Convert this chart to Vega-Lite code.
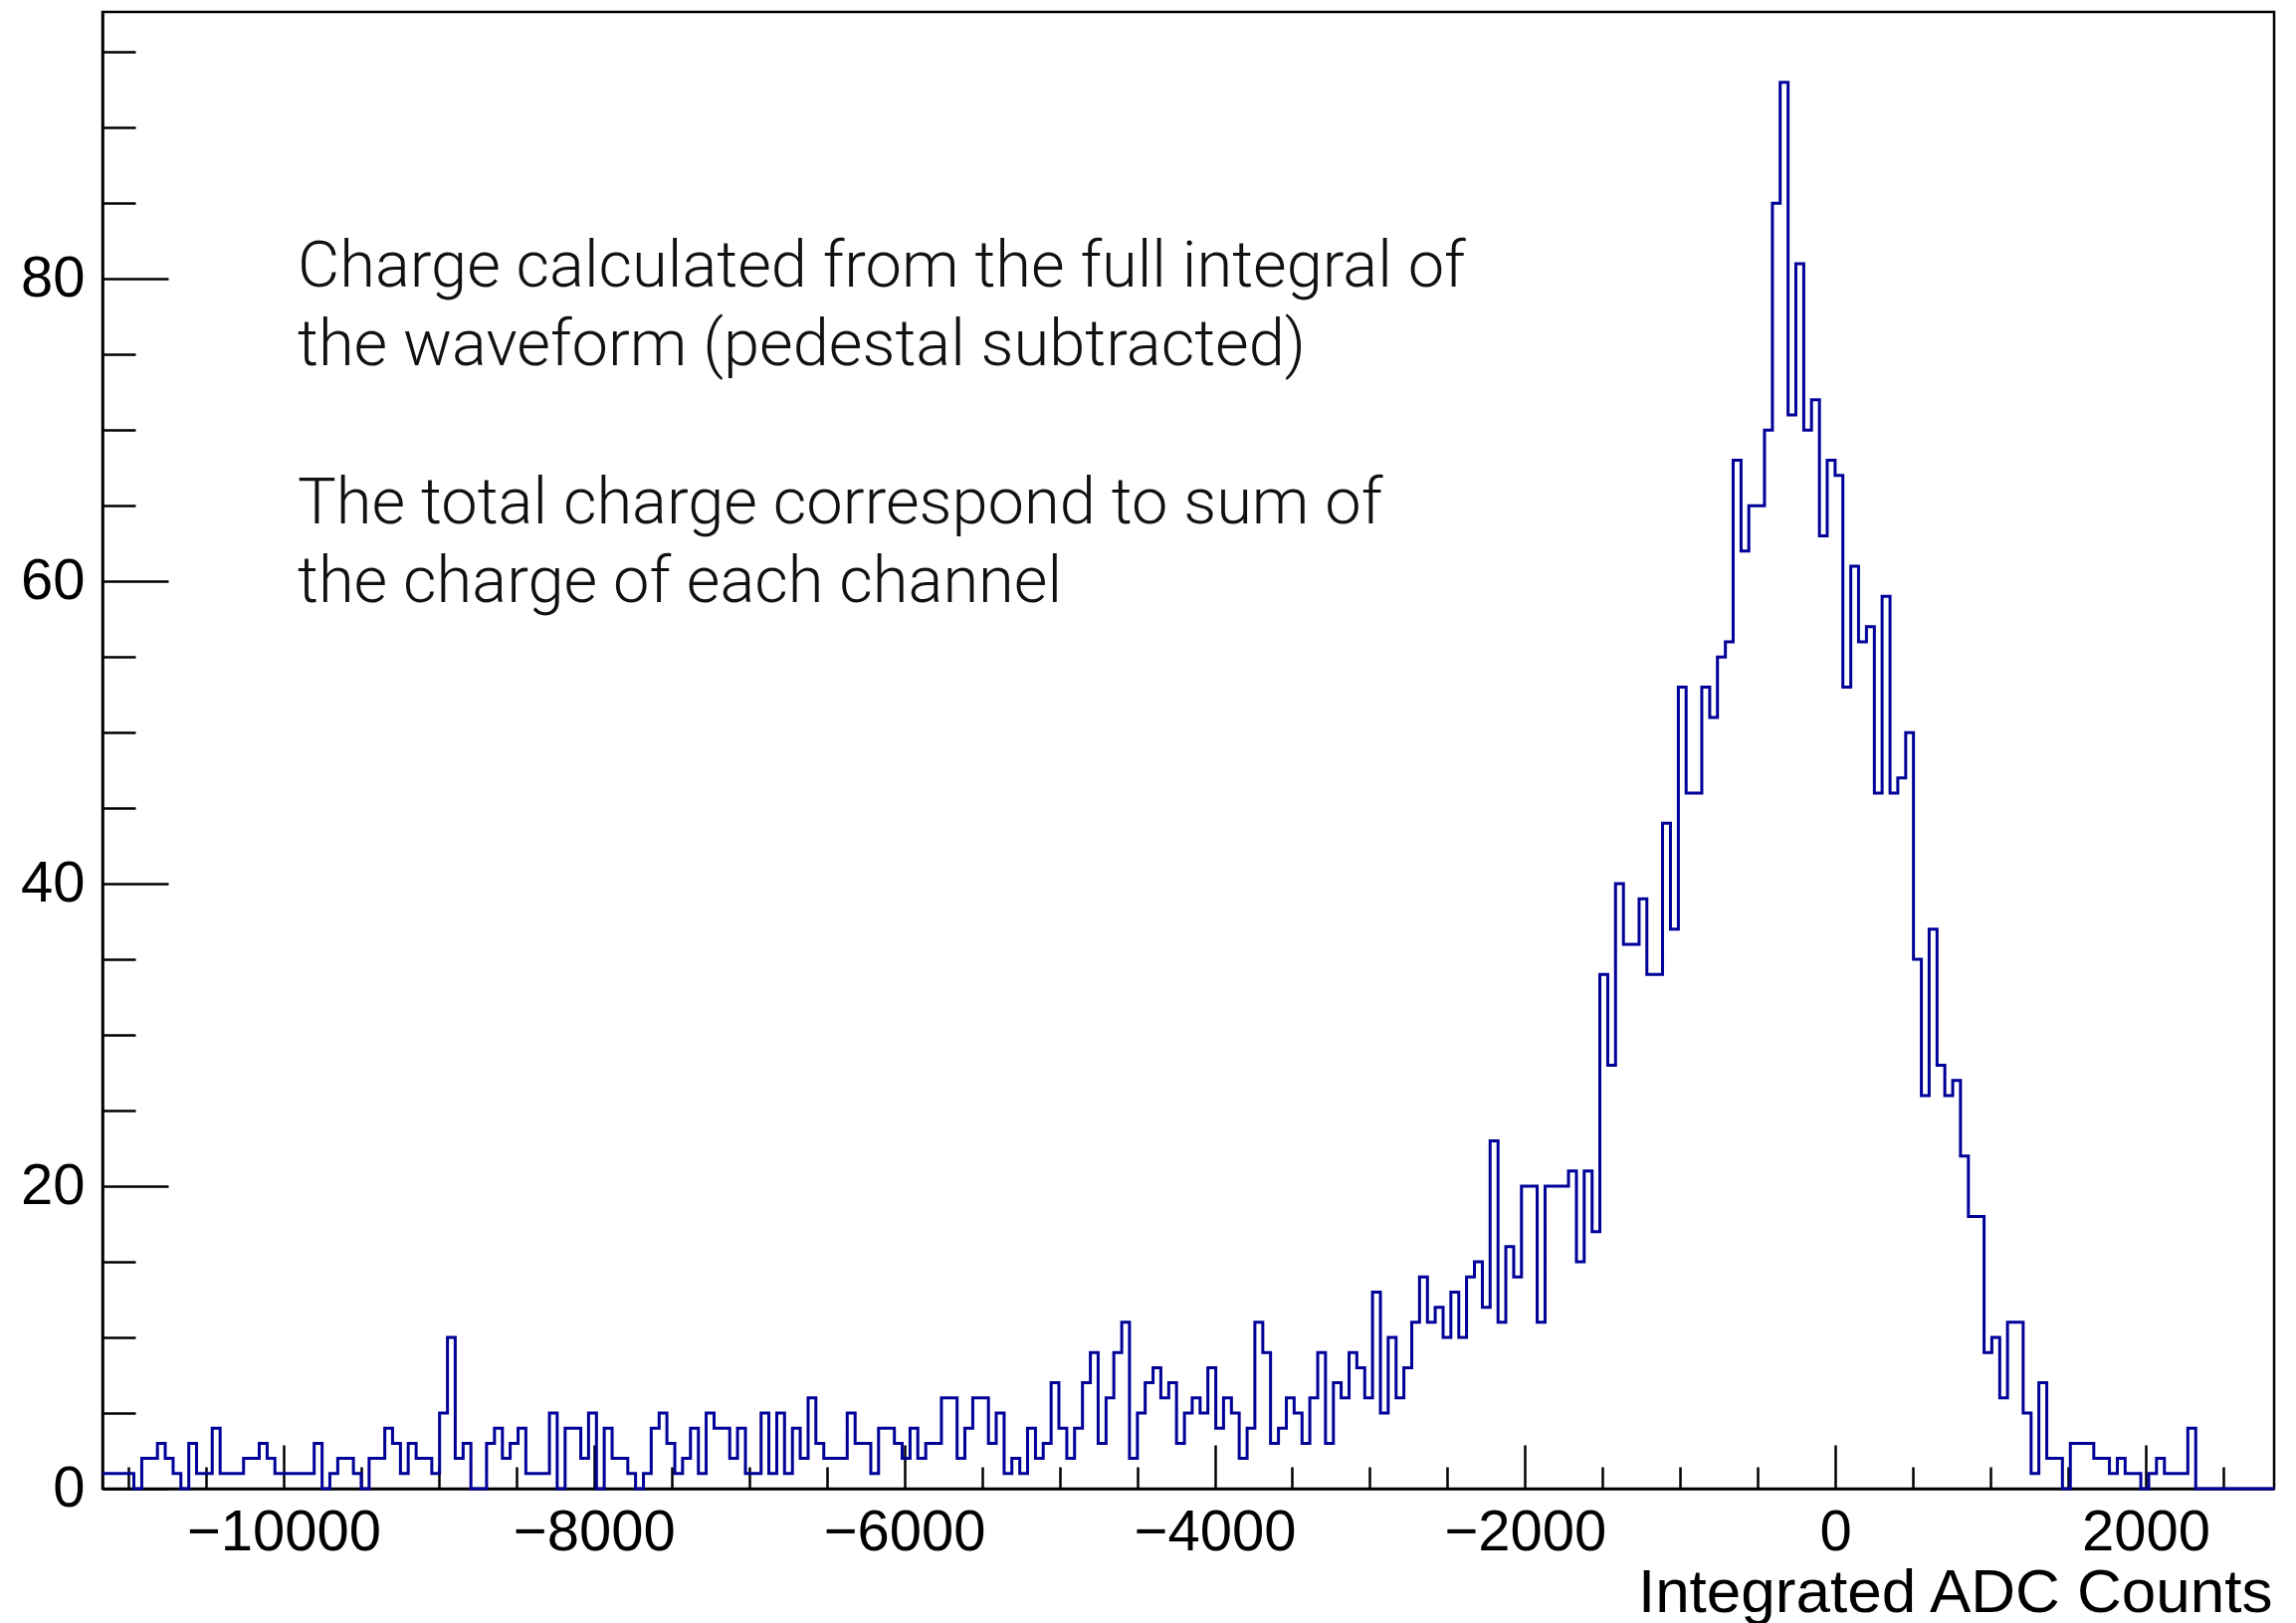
{
  "$schema": "https://vega.github.io/schema/vega-lite/v6.json",
  "width": 2182,
  "height": 1484,
  "autosize": {"type": "none"},
  "padding": {"left": 103, "top": 12, "right": 22, "bottom": 135},
  "background": "white",
  "config": {
    "view": {"stroke": "black", "strokeWidth": 2.5},
    "axis": {
      "grid": false,
      "domainColor": "black",
      "domainWidth": 2.5,
      "tickColor": "black",
      "tickWidth": 2.5,
      "labelColor": "black",
      "labelFont": "Liberation Sans",
      "labelFontSize": 58,
      "labelFontWeight": "normal",
      "labelLimit": 500,
      "titleFont": "Liberation Sans",
      "titleFontWeight": "normal",
      "titleColor": "black",
      "labelOverlap": false,
      "labelFlush": false,
      "zindex": 1
    }
  },
  "layer": [
    {
      "data": {
        "values": [
          {"x": -11167, "n": 1}, {"x": -11116, "n": 1}, {"x": -11066, "n": 1}, {"x": -11015, "n": 1},
          {"x": -10965, "n": 0}, {"x": -10914, "n": 2}, {"x": -10864, "n": 2}, {"x": -10813, "n": 3},
          {"x": -10763, "n": 2}, {"x": -10712, "n": 1}, {"x": -10662, "n": 0}, {"x": -10611, "n": 3},
          {"x": -10561, "n": 1}, {"x": -10510, "n": 1}, {"x": -10460, "n": 4}, {"x": -10409, "n": 1},
          {"x": -10359, "n": 1}, {"x": -10308, "n": 1}, {"x": -10258, "n": 2}, {"x": -10207, "n": 2},
          {"x": -10157, "n": 3}, {"x": -10106, "n": 2}, {"x": -10056, "n": 1}, {"x": -10005, "n": 1},
          {"x": -9955, "n": 1}, {"x": -9904, "n": 1}, {"x": -9853, "n": 1}, {"x": -9803, "n": 3},
          {"x": -9752, "n": 0}, {"x": -9702, "n": 1}, {"x": -9651, "n": 2}, {"x": -9601, "n": 2},
          {"x": -9550, "n": 1}, {"x": -9500, "n": 0}, {"x": -9449, "n": 2}, {"x": -9399, "n": 2},
          {"x": -9348, "n": 4}, {"x": -9298, "n": 3}, {"x": -9247, "n": 1}, {"x": -9197, "n": 3},
          {"x": -9146, "n": 2}, {"x": -9096, "n": 2}, {"x": -9045, "n": 1}, {"x": -8995, "n": 5},
          {"x": -8944, "n": 10}, {"x": -8894, "n": 2}, {"x": -8843, "n": 3}, {"x": -8793, "n": 0},
          {"x": -8742, "n": 0}, {"x": -8692, "n": 3}, {"x": -8641, "n": 4}, {"x": -8590, "n": 2},
          {"x": -8540, "n": 3}, {"x": -8489, "n": 4}, {"x": -8439, "n": 1}, {"x": -8388, "n": 1},
          {"x": -8338, "n": 1}, {"x": -8287, "n": 5}, {"x": -8237, "n": 0}, {"x": -8186, "n": 4},
          {"x": -8136, "n": 4}, {"x": -8085, "n": 2}, {"x": -8035, "n": 5}, {"x": -7984, "n": 0},
          {"x": -7934, "n": 4}, {"x": -7883, "n": 2}, {"x": -7833, "n": 2}, {"x": -7782, "n": 1},
          {"x": -7732, "n": 0}, {"x": -7681, "n": 1}, {"x": -7631, "n": 4}, {"x": -7580, "n": 5},
          {"x": -7530, "n": 3}, {"x": -7479, "n": 1}, {"x": -7429, "n": 2}, {"x": -7378, "n": 4},
          {"x": -7327, "n": 1}, {"x": -7277, "n": 5}, {"x": -7226, "n": 4}, {"x": -7176, "n": 4},
          {"x": -7125, "n": 2}, {"x": -7075, "n": 4}, {"x": -7024, "n": 1}, {"x": -6974, "n": 1},
          {"x": -6923, "n": 5}, {"x": -6873, "n": 1}, {"x": -6822, "n": 5}, {"x": -6772, "n": 1},
          {"x": -6721, "n": 4}, {"x": -6671, "n": 2}, {"x": -6620, "n": 6}, {"x": -6570, "n": 3},
          {"x": -6519, "n": 2}, {"x": -6469, "n": 2}, {"x": -6418, "n": 2}, {"x": -6368, "n": 5},
          {"x": -6317, "n": 3}, {"x": -6267, "n": 3}, {"x": -6216, "n": 1}, {"x": -6166, "n": 4},
          {"x": -6115, "n": 4}, {"x": -6064, "n": 3}, {"x": -6014, "n": 2}, {"x": -5963, "n": 4},
          {"x": -5913, "n": 2}, {"x": -5862, "n": 3}, {"x": -5812, "n": 3}, {"x": -5761, "n": 6},
          {"x": -5711, "n": 6}, {"x": -5660, "n": 2}, {"x": -5610, "n": 4}, {"x": -5559, "n": 6},
          {"x": -5509, "n": 6}, {"x": -5458, "n": 3}, {"x": -5408, "n": 5}, {"x": -5357, "n": 1},
          {"x": -5307, "n": 2}, {"x": -5256, "n": 1}, {"x": -5206, "n": 4}, {"x": -5155, "n": 2},
          {"x": -5105, "n": 3}, {"x": -5054, "n": 7}, {"x": -5004, "n": 4}, {"x": -4953, "n": 2},
          {"x": -4903, "n": 4}, {"x": -4852, "n": 7}, {"x": -4801, "n": 9}, {"x": -4751, "n": 3},
          {"x": -4700, "n": 6}, {"x": -4650, "n": 9}, {"x": -4599, "n": 11}, {"x": -4549, "n": 2},
          {"x": -4498, "n": 5}, {"x": -4448, "n": 7}, {"x": -4397, "n": 8}, {"x": -4347, "n": 6},
          {"x": -4296, "n": 7}, {"x": -4246, "n": 3}, {"x": -4195, "n": 5}, {"x": -4145, "n": 6},
          {"x": -4094, "n": 5}, {"x": -4044, "n": 8}, {"x": -3993, "n": 4}, {"x": -3943, "n": 6},
          {"x": -3892, "n": 5}, {"x": -3842, "n": 2}, {"x": -3791, "n": 4}, {"x": -3741, "n": 11},
          {"x": -3690, "n": 9}, {"x": -3640, "n": 3}, {"x": -3589, "n": 4}, {"x": -3538, "n": 6},
          {"x": -3488, "n": 5}, {"x": -3437, "n": 3}, {"x": -3387, "n": 6}, {"x": -3336, "n": 9},
          {"x": -3286, "n": 3}, {"x": -3235, "n": 7}, {"x": -3185, "n": 6}, {"x": -3134, "n": 9},
          {"x": -3084, "n": 8}, {"x": -3033, "n": 6}, {"x": -2983, "n": 13}, {"x": -2932, "n": 5},
          {"x": -2882, "n": 10}, {"x": -2831, "n": 6}, {"x": -2781, "n": 8}, {"x": -2730, "n": 11},
          {"x": -2680, "n": 14}, {"x": -2629, "n": 11}, {"x": -2579, "n": 12}, {"x": -2528, "n": 10},
          {"x": -2478, "n": 13}, {"x": -2427, "n": 10}, {"x": -2377, "n": 14}, {"x": -2326, "n": 15},
          {"x": -2275, "n": 12}, {"x": -2225, "n": 23}, {"x": -2174, "n": 11}, {"x": -2124, "n": 16},
          {"x": -2073, "n": 14}, {"x": -2023, "n": 20}, {"x": -1972, "n": 20}, {"x": -1922, "n": 11},
          {"x": -1871, "n": 20}, {"x": -1821, "n": 20}, {"x": -1770, "n": 20}, {"x": -1720, "n": 21},
          {"x": -1669, "n": 15}, {"x": -1619, "n": 21}, {"x": -1568, "n": 17}, {"x": -1518, "n": 34},
          {"x": -1467, "n": 28}, {"x": -1417, "n": 40}, {"x": -1366, "n": 36}, {"x": -1316, "n": 36},
          {"x": -1265, "n": 39}, {"x": -1215, "n": 34}, {"x": -1164, "n": 34}, {"x": -1114, "n": 44},
          {"x": -1063, "n": 37}, {"x": -1012, "n": 53}, {"x": -962, "n": 46}, {"x": -911, "n": 46},
          {"x": -861, "n": 53}, {"x": -810, "n": 51}, {"x": -760, "n": 55}, {"x": -709, "n": 56},
          {"x": -659, "n": 68}, {"x": -608, "n": 62}, {"x": -558, "n": 65}, {"x": -507, "n": 65},
          {"x": -457, "n": 70}, {"x": -406, "n": 85}, {"x": -356, "n": 93}, {"x": -305, "n": 71},
          {"x": -255, "n": 81}, {"x": -204, "n": 70}, {"x": -154, "n": 72}, {"x": -103, "n": 63},
          {"x": -53, "n": 68}, {"x": -2, "n": 67}, {"x": 48, "n": 53}, {"x": 99, "n": 61},
          {"x": 149, "n": 56}, {"x": 200, "n": 57}, {"x": 251, "n": 46}, {"x": 301, "n": 59},
          {"x": 352, "n": 46}, {"x": 402, "n": 47}, {"x": 453, "n": 50}, {"x": 503, "n": 35},
          {"x": 554, "n": 26}, {"x": 604, "n": 37}, {"x": 655, "n": 28}, {"x": 705, "n": 26},
          {"x": 756, "n": 27}, {"x": 806, "n": 22}, {"x": 857, "n": 18}, {"x": 907, "n": 18},
          {"x": 958, "n": 9}, {"x": 1008, "n": 10}, {"x": 1059, "n": 6}, {"x": 1109, "n": 11},
          {"x": 1160, "n": 11}, {"x": 1210, "n": 5}, {"x": 1261, "n": 1}, {"x": 1311, "n": 7},
          {"x": 1362, "n": 2}, {"x": 1412, "n": 2}, {"x": 1463, "n": 0}, {"x": 1514, "n": 3},
          {"x": 1564, "n": 3}, {"x": 1615, "n": 3}, {"x": 1665, "n": 2}, {"x": 1716, "n": 2},
          {"x": 1766, "n": 1}, {"x": 1817, "n": 2}, {"x": 1867, "n": 1}, {"x": 1918, "n": 1},
          {"x": 1968, "n": 0}, {"x": 2019, "n": 1}, {"x": 2069, "n": 2}, {"x": 2120, "n": 1},
          {"x": 2170, "n": 1}, {"x": 2221, "n": 1}, {"x": 2271, "n": 4}, {"x": 2322, "n": 0},
          {"x": 2372, "n": 0}, {"x": 2423, "n": 0}, {"x": 2473, "n": 0}, {"x": 2524, "n": 0},
          {"x": 2574, "n": 0}, {"x": 2625, "n": 0}, {"x": 2675, "n": 0}, {"x": 2726, "n": 0},
          {"x": 2777, "n": 0}, {"x": 2827, "n": 0}
        ]
      },
      "mark": {"type": "line", "interpolate": "step-after", "color": "#000099", "strokeWidth": 3},
      "encoding": {
        "x": {
          "field": "x",
          "type": "quantitative",
          "scale": {"domain": [-11167, 2827], "nice": false, "zero": false},
          "axis": {
            "values": [-11000, -10500, -10000, -9500, -9000, -8500, -8000, -7500, -7000, -6500, -6000, -5500, -5000, -4500, -4000, -3500, -3000, -2500, -2000, -1500, -1000, -500, 0, 500, 1000, 1500, 2000, 2500],
            "format": "d",
            "tickSize": {"condition": {"test": "datum.value % 2000 === 0", "value": -44}, "value": -22},
            "labelExpr": "datum.value % 2000 === 0 ? datum.label : ''",
            "labelPadding": 59,
            "labelBaseline": "top",
            "title": "Integrated ADC Counts",
            "titleFontSize": 62,
            "titleAnchor": "end",
            "titleAlign": "right",
            "titleBaseline": "alphabetic",
            "titleX": 2180,
            "titleY": 123
          }
        },
        "y": {
          "field": "n",
          "type": "quantitative",
          "scale": {"domain": [0, 97.65], "nice": false, "zero": true},
          "axis": {
            "values": [0, 5, 10, 15, 20, 25, 30, 35, 40, 45, 50, 55, 60, 65, 70, 75, 80, 85, 90, 95],
            "format": "d",
            "tickSize": {"condition": {"test": "datum.value % 20 === 0", "value": -66}, "value": -33},
            "labelExpr": "datum.value % 20 === 0 ? datum.label : ''",
            "labelPadding": 84,
            "title": null
          }
        }
      }
    },
    {
      "data": {"values": [{"note": "method"}]},
      "mark": {
        "type": "text",
        "align": "left",
        "baseline": "alphabetic",
        "font": "Roboto",
        "fontSize": 65,
        "fontWeight": 300,
        "lineHeight": 79.3,
        "color": "#111111"
      },
      "encoding": {
        "x": {"datum": -9910},
        "y": {"datum": 79.5},
        "text": {"value": ["Charge calculated from the full integral of", "the waveform (pedestal subtracted)"]}
      }
    },
    {
      "data": {"values": [{"note": "sum"}]},
      "mark": {
        "type": "text",
        "align": "left",
        "baseline": "alphabetic",
        "font": "Roboto",
        "fontSize": 65,
        "fontWeight": 300,
        "lineHeight": 79.3,
        "color": "#111111"
      },
      "encoding": {
        "x": {"datum": -9910},
        "y": {"datum": 63.85},
        "text": {"value": ["The total charge correspond to sum of", "the charge of each channel"]}
      }
    }
  ]
}
